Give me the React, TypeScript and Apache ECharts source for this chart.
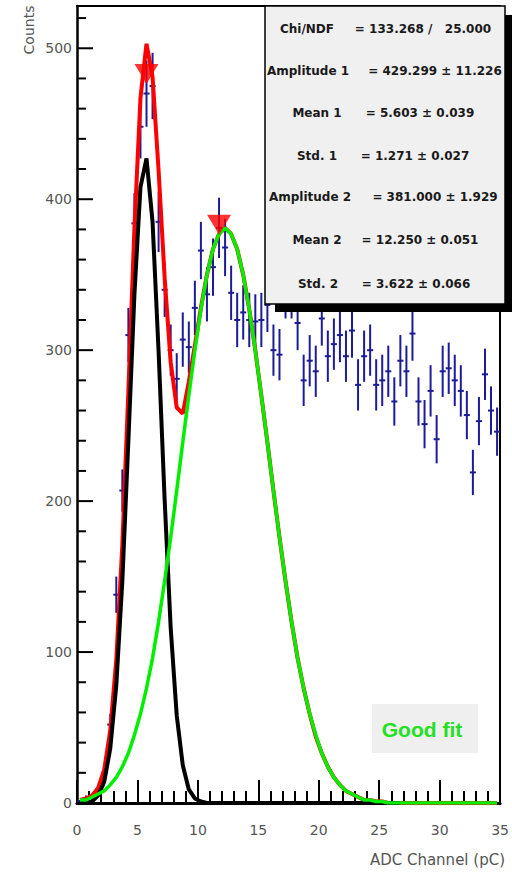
import React, { useEffect, useRef } from 'react';
import * as echarts from 'echarts';

// Histogram: 70 bins of width 0.5 over 0..35 pC
const binWidth = 0.5;

const counts = [
  1, 3, 4, 9, 20, 52, 138, 207, 310, 384,
  448, 470, 475, 385, 340, 300, 281, 307, 302, 328,
  366, 337, 355, 381, 368, 338, 320, 325, 320, 319,
  320, 330, 300, 297, 339, 339, 318, 280, 293, 286,
  321, 296, 304, 310, 296, 313, 277, 296, 300, 277,
  280, 286, 266, 293, 286, 311, 266, 251, 273, 241,
  286, 288, 280, 273, 257, 219, 253, 284, 260, 246,
];

const countErrors = [
  1, 2, 2, 3, 4.5, 7, 12, 14, 18, 20,
  21, 22, 22, 20, 18, 17, 17, 18, 17, 18,
  19, 18, 19, 20, 19, 18, 18, 18, 18, 18,
  18, 18, 17, 17, 18, 18, 18, 17, 17, 17,
  18, 17, 17, 18, 17, 18, 17, 17, 17, 17,
  17, 17, 16, 17, 17, 18, 16, 16, 17, 16,
  17, 17, 17, 17, 16, 15, 16, 17, 16, 16,
];

// fitted curves read at the bin centres
const totalFit = [
  2, 3, 5, 10, 22, 48, 95, 171, 273, 381,
  467, 503, 481, 419, 348, 292, 262, 258, 279, 303,
  328, 350, 367, 377, 381, 377, 367, 350, 327, 300,
  270, 239, 207, 176, 147, 120, 96, 76, 59, 44,
  33, 24, 17, 12, 8, 6, 4, 2, 2, 1,
  1, 0, 0, 0, 0, 0, 0, 0, 0, 0,
  0, 0, 0, 0, 0, 0, 0, 0, 0, 0,
];

const gauss1Fit = [
  0, 0, 1, 5, 14, 36, 78, 147, 240, 337,
  408, 427, 385, 299, 201, 116, 58, 25, 9, 3,
  1, 0, 0, 0, 0, 0, 0, 0, 0, 0,
  0, 0, 0, 0, 0, 0, 0, 0, 0, 0,
  0, 0, 0, 0, 0, 0, 0, 0, 0, 0,
  0, 0, 0, 0,
];

const gauss2Fit = [
  2, 2, 4, 6, 8, 12, 17, 24, 33, 45,
  59, 76, 96, 120, 147, 176, 207, 239, 270, 300,
  327, 350, 367, 377, 381, 377, 367, 350, 327, 300,
  270, 239, 207, 176, 147, 120, 96, 76, 59, 45,
  33, 24, 17, 12, 8, 6, 4, 2, 2, 1,
  1, 0, 0, 0, 0, 0, 0, 0, 0, 0,
  0, 0, 0, 0, 0, 0, 0, 0, 0, 0,
];

const peakX = [5.75, 11.75];
const peakY = [483, 383];

// y-axis tick marks (drawn inward from the left axis)
const yMajorTicks = [0, 100, 200, 300, 400, 500];
const yMinorTicks = [
  20, 40, 60, 80, 120, 140, 160, 180, 220, 240, 260, 280,
  320, 340, 360, 380, 420, 440, 460, 480, 520,
];

const statLabels = ['Chi/NDF', 'Amplitude 1', 'Mean 1', 'Std. 1', 'Amplitude 2', 'Mean 2', 'Std. 2'];
const statValues = [
  '= 133.268 /\u00a0\u00a0 25.000',
  '= 429.299 \u00b1 11.226',
  '= 5.603 \u00b1 0.039',
  '= 1.271 \u00b1 0.027',
  '= 381.000 \u00b1 1.929',
  '= 12.250 \u00b1 0.051',
  '= 3.622 \u00b1 0.066',
];

const xTitle = 'ADC Channel (pC)';
const yTitle = 'Counts';
const noteText = 'Good fit';

export default function App() {
  const ref = useRef<HTMLDivElement>(null);

  useEffect(() => {
    if (!ref.current) return;
    const chart = echarts.init(ref.current, null, { renderer: 'svg' });
    const centers = counts.map((_, i) => binWidth * i + binWidth / 2);
    const blue = '#1c1c98';
    const axisFont = 'DejaVu Sans';

    const labelX = [307, 308, 317, 317, 310, 317, 318];
    const valueX = [423, 435, 420, 415, 435, 420, 416];
    const rowY = [29, 71, 113, 156, 197, 240, 284];

    const statTexts: any[] = [];
    statLabels.forEach((t, i) => {
      statTexts.push({
        type: 'text', x: labelX[i], y: rowY[i], z: 102,
        style: { text: t, font: 'bold 12px "DejaVu Sans"', fill: '#1a1a1a', align: 'center', verticalAlign: 'middle', textAlign: 'center', textVerticalAlign: 'middle' },
      });
      statTexts.push({
        type: 'text', x: valueX[i], y: rowY[i], z: 102,
        style: { text: statValues[i], font: 'bold 12px "DejaVu Sans"', fill: '#1a1a1a', align: 'center', verticalAlign: 'middle', textAlign: 'center', textVerticalAlign: 'middle' },
      });
    });

    const frameAxis = {
      axisLine: { show: true, onZero: false, lineStyle: { color: '#000', width: 2 } },
      axisTick: { show: false }, axisLabel: { show: false }, splitLine: { show: false },
    };

    const tickData = [
      ...yMajorTicks.map((v) => [0, v, 16]),
      ...yMinorTicks.map((v) => [0, v, 9]),
    ];

    const baseGraphics: any[] = [
      { type: 'rect', z: 100, shape: { x: 275, y: 15, width: 240, height: 297 }, style: { fill: '#000' } },
      { type: 'rect', z: 101, shape: { x: 265, y: 6, width: 240, height: 298 }, style: { fill: '#f0f0f0', stroke: '#000', lineWidth: 1.5 } },
      ...statTexts,
      { type: 'rect', z: 100, shape: { x: 372, y: 704, width: 106, height: 49 }, style: { fill: '#efefef' } },
      {
        type: 'text', x: 422, y: 729, z: 101,
        style: { text: noteText, font: 'bold 21px "Liberation Sans"', fill: '#22e022', align: 'center', verticalAlign: 'middle', textAlign: 'center', textVerticalAlign: 'middle' },
      },
      {
        type: 'text', x: 29, y: 30, rotation: Math.PI / 2, z: 101,
        style: { text: yTitle, font: '14px "DejaVu Sans"', fill: '#555', align: 'center', verticalAlign: 'middle', textAlign: 'center', textVerticalAlign: 'middle' },
      },
      {
        type: 'text', x: 505, y: 860, z: 101,
        style: { text: xTitle, font: '15px "DejaVu Sans"', fill: '#555', align: 'right', verticalAlign: 'middle', textAlign: 'right', textVerticalAlign: 'middle' },
      },
    ];

    const option: any = {
      animation: false,
      backgroundColor: '#ffffff',
      grid: { left: 77, right: 8, top: 6, bottom: 69 },
      xAxis: [
        {
          type: 'value', min: 0, max: 35, interval: 5,
          axisLine: { show: true, onZero: false, lineStyle: { color: '#000', width: 3 } },
          axisTick: { show: true, inside: true, length: 23, lineStyle: { color: '#000', width: 2 } },
          minorTick: { show: true, splitNumber: 5, length: 12, lineStyle: { color: '#000', width: 2 } },
          axisLabel: { margin: 20, fontFamily: axisFont, fontSize: 14, color: '#555' },
          splitLine: { show: false },
        },
        { type: 'value', min: 0, max: 35, position: 'top', ...frameAxis },
      ],
      yAxis: [
        {
          type: 'value', min: 0, max: 528, interval: 100, position: 'left',
          axisLine: { show: true, onZero: false, lineStyle: { color: '#000', width: 2.5 } },
          axisTick: { show: false },
          axisLabel: { margin: 5, fontFamily: axisFont, fontSize: 14, color: '#555', showMaxLabel: false },
          splitLine: { show: false },
        },
        { type: 'value', min: 0, max: 528, position: 'right', ...frameAxis },
      ],
      series: [
        {
          type: 'custom', name: 'data',
          xAxisIndex: 0, yAxisIndex: 0, z: 2,
          data: centers.map((x, i) => [x, counts[i], countErrors[i]]),
          encode: { x: 0, y: 1 },
          renderItem: (params: any, api: any) => {
            const x = api.value(0);
            const y = api.value(1);
            const e = api.value(2);
            const top = api.coord([x, y + e]);
            const bot = api.coord([x, y - e]);
            const l = api.coord([x - binWidth / 2, y]);
            const r = api.coord([x + binWidth / 2, y]);
            return {
              type: 'group',
              children: [
                { type: 'line', shape: { x1: top[0], y1: top[1], x2: bot[0], y2: bot[1] }, style: { stroke: blue, lineWidth: 2 } },
                { type: 'line', shape: { x1: l[0], y1: l[1], x2: r[0], y2: r[1] }, style: { stroke: blue, lineWidth: 2 } },
              ],
            };
          },
        },
        {
          type: 'line', name: 'total', symbol: 'none', z: 3, xAxisIndex: 0, yAxisIndex: 0,
          data: centers.map((x, i) => [x, totalFit[i]]),
          lineStyle: { color: '#ff0000', width: 4 },
        },
        {
          type: 'line', name: 'gauss1', symbol: 'none', z: 4, xAxisIndex: 0, yAxisIndex: 0,
          data: gauss1Fit.map((v, i) => [centers[i], v]),
          lineStyle: { color: '#000000', width: 4 },
        },
        {
          type: 'line', name: 'gauss2', symbol: 'none', z: 5, xAxisIndex: 0, yAxisIndex: 0,
          data: centers.map((x, i) => [x, gauss2Fit[i]]),
          lineStyle: { color: '#00ee00', width: 3.5 },
        },
        {
          type: 'scatter', name: 'peaks', z: 6, xAxisIndex: 0, yAxisIndex: 0,
          data: peakX.map((x, i) => [x, peakY[i]]),
          symbol: 'triangle', symbolRotate: 180, symbolSize: [24, 20],
          itemStyle: { color: '#ff0000' },
        },
      ],
      graphic: { elements: baseGraphics },
    };

    chart.setOption(option);

    // y ticks: positions come from the chart's own y scale
    const tickLines = tickData.map((d) => {
      const p = chart.convertToPixel({ xAxisIndex: 0, yAxisIndex: 0 } as any, [d[0], d[1]]) as number[];
      return {
        type: 'line', z: 99,
        shape: { x1: p[0], y1: p[1], x2: p[0] + d[2], y2: p[1] },
        style: { stroke: '#000', lineWidth: 2 },
      };
    });
    chart.setOption({ graphic: { elements: [...baseGraphics, ...tickLines] } });

    return () => chart.dispose();
  }, []);

  return (
    <div
      ref={ref}
      style={{ position: 'absolute', left: 0, top: 0, width: 512, height: 872, background: '#fff' }}
    />
  );
}
